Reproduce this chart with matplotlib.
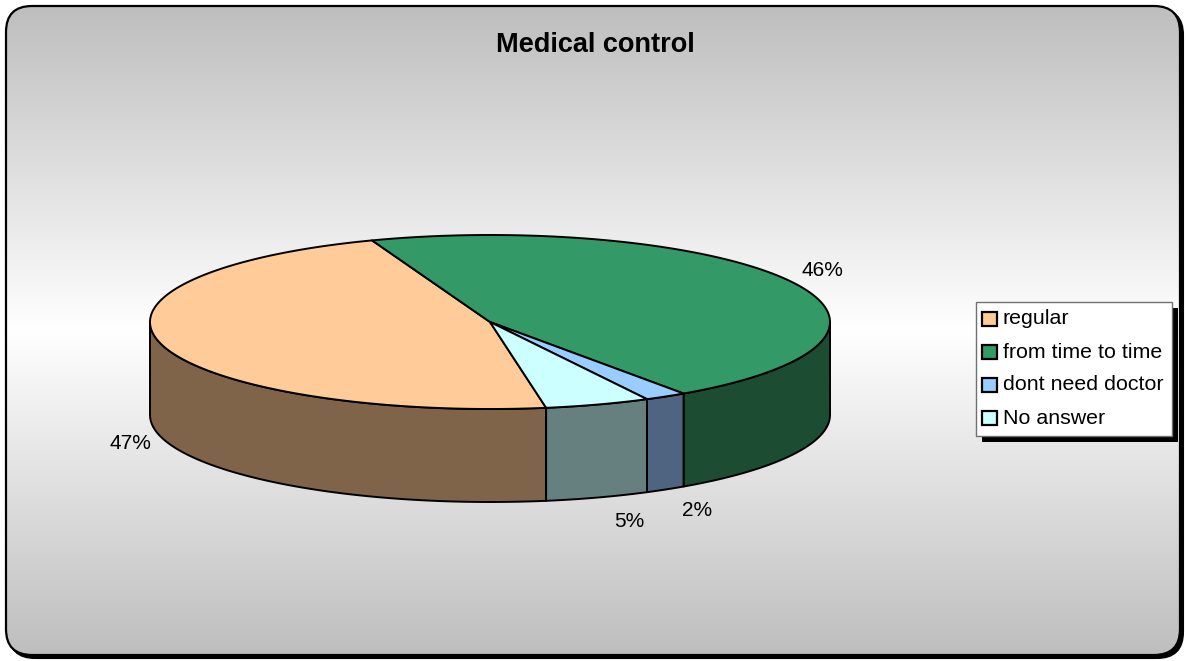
import numpy as np
import matplotlib
matplotlib.use('Agg')
import matplotlib.pyplot as plt
from matplotlib.patches import Polygon, Rectangle, FancyBboxPatch

plt.rcParams['font.family'] = ['Liberation Sans', 'DejaVu Sans']

# Data
title = "Medical control"
labels = ['regular', 'from time to time', 'dont need doctor', 'No answer']
values = [47, 46, 2, 5]
top_colors = ['#ffcc99', '#339966', '#99ccff', '#ccffff']
side_colors = ['#806449', '#1c4d33', '#4f6480', '#668080']

W, H = 1187, 661
fig = plt.figure(figsize=(W / 100, H / 100), dpi=100)
ax = fig.add_axes([0, 0, 1, 1])
ax.set_xlim(0, W)
ax.set_ylim(H, 0)
ax.axis('off')

# --- chart area: rounded frame with gray-white-gray gradient ---
fx0, fy0, fx1, fy1 = 6, 6, 1180, 655
shadow = FancyBboxPatch((fx0 + 3, fy0 + 3), fx1 - fx0, fy1 - fy0,
                        boxstyle="round,pad=0,rounding_size=26",
                        fc='black', ec='black', lw=1.5, zorder=0)
ax.add_patch(shadow)
frame = FancyBboxPatch((fx0, fy0), fx1 - fx0, fy1 - fy0,
                       boxstyle="round,pad=0,rounding_size=26",
                       fc='none', ec='black', lw=1.6, zorder=3)
ax.add_patch(frame)
t = np.linspace(-1, 1, 400)
g = 1.0 - 0.255 * np.abs(t)
grad = np.dstack([g, g, g]).reshape(-1, 1, 3)
im = ax.imshow(grad, extent=(fx0, fx1, fy1, fy0), aspect='auto', zorder=1,
               interpolation='bilinear')
clip = FancyBboxPatch((fx0, fy0), fx1 - fx0, fy1 - fy0,
                      boxstyle="round,pad=0,rounding_size=26",
                      fc='none', ec='none', transform=ax.transData)
ax.add_patch(clip)
im.set_clip_path(clip)

ax.text(595, 52, title, ha='center', va='baseline', fontsize=19.5,
        fontweight='bold', zorder=10)

# --- 3D pie ---
cx, cy, a, b, depth = 490, 322, 340, 87, 93
start = -80.5  # degrees, slices go clockwise

fracs = np.array(values, dtype=float) / sum(values)
angles = []
cur = start
for f in fracs:
    nxt = cur - f * 360
    angles.append((nxt, cur))  # (low, high)
    cur = nxt

# side faces (only front half, angles in [-180, 0] modulo 360)
for (lo, hi), sc in zip(angles, side_colors):
    for k in range(-2, 2):
        s0 = max(lo, -180 + 360 * k)
        s1 = min(hi, 0 + 360 * k)
        if s1 <= s0:
            continue
        th = np.linspace(s0, s1, 120)
        xs = cx + a * np.cos(np.radians(th))
        ys = cy - b * np.sin(np.radians(th))
        pts = np.column_stack([np.r_[xs, xs[::-1]], np.r_[ys, ys[::-1] + depth]])
        ax.add_patch(Polygon(pts, closed=True, fc=sc, ec='black', lw=1.4,
                             joinstyle='round', zorder=4))

# top faces
for (lo, hi), tc in zip(angles, top_colors):
    th = np.linspace(lo, hi, 300)
    xs = cx + a * np.cos(np.radians(th))
    ys = cy - b * np.sin(np.radians(th))
    pts = np.column_stack([np.r_[cx, xs], np.r_[cy, ys]])
    ax.add_patch(Polygon(pts, closed=True, fc=tc, ec='black', lw=1.4,
                         joinstyle='round', zorder=5))

# percentage labels
for (lo, hi), v in zip(angles, values):
    mid = np.radians((lo + hi) / 2)
    lx = cx + a * np.cos(mid) + 31 * np.sign(np.cos(mid))
    ly = cy - (b + 25) * np.sin(mid)
    if np.sin(mid) < 0:
        ly += depth
    ax.text(lx, ly, f"{v / sum(values) * 100:.0f}%", ha='center', va='center',
            fontsize=15, zorder=10)

# --- legend ---
lx0, ly0, lx1, ly1 = 976, 302, 1172, 436
ax.add_patch(Rectangle((lx0 + 6, ly0 + 6), lx1 - lx0, ly1 - ly0, fc='black',
                       ec='black', lw=0, zorder=8))
ax.add_patch(Rectangle((lx0, ly0), lx1 - lx0, ly1 - ly0, fc='white',
                       ec='#707070', lw=1.0, zorder=9))
for i, (lab, c) in enumerate(zip(labels, top_colors)):
    yc = 319 + i * 33
    ax.add_patch(Rectangle((982, yc - 7), 15, 14, fc=c, ec='black', lw=1.6,
                           zorder=10))
    ax.text(1003, yc, lab, ha='left', va='center', fontsize=15.4, zorder=10)

fig.savefig('out.png', dpi=100)
